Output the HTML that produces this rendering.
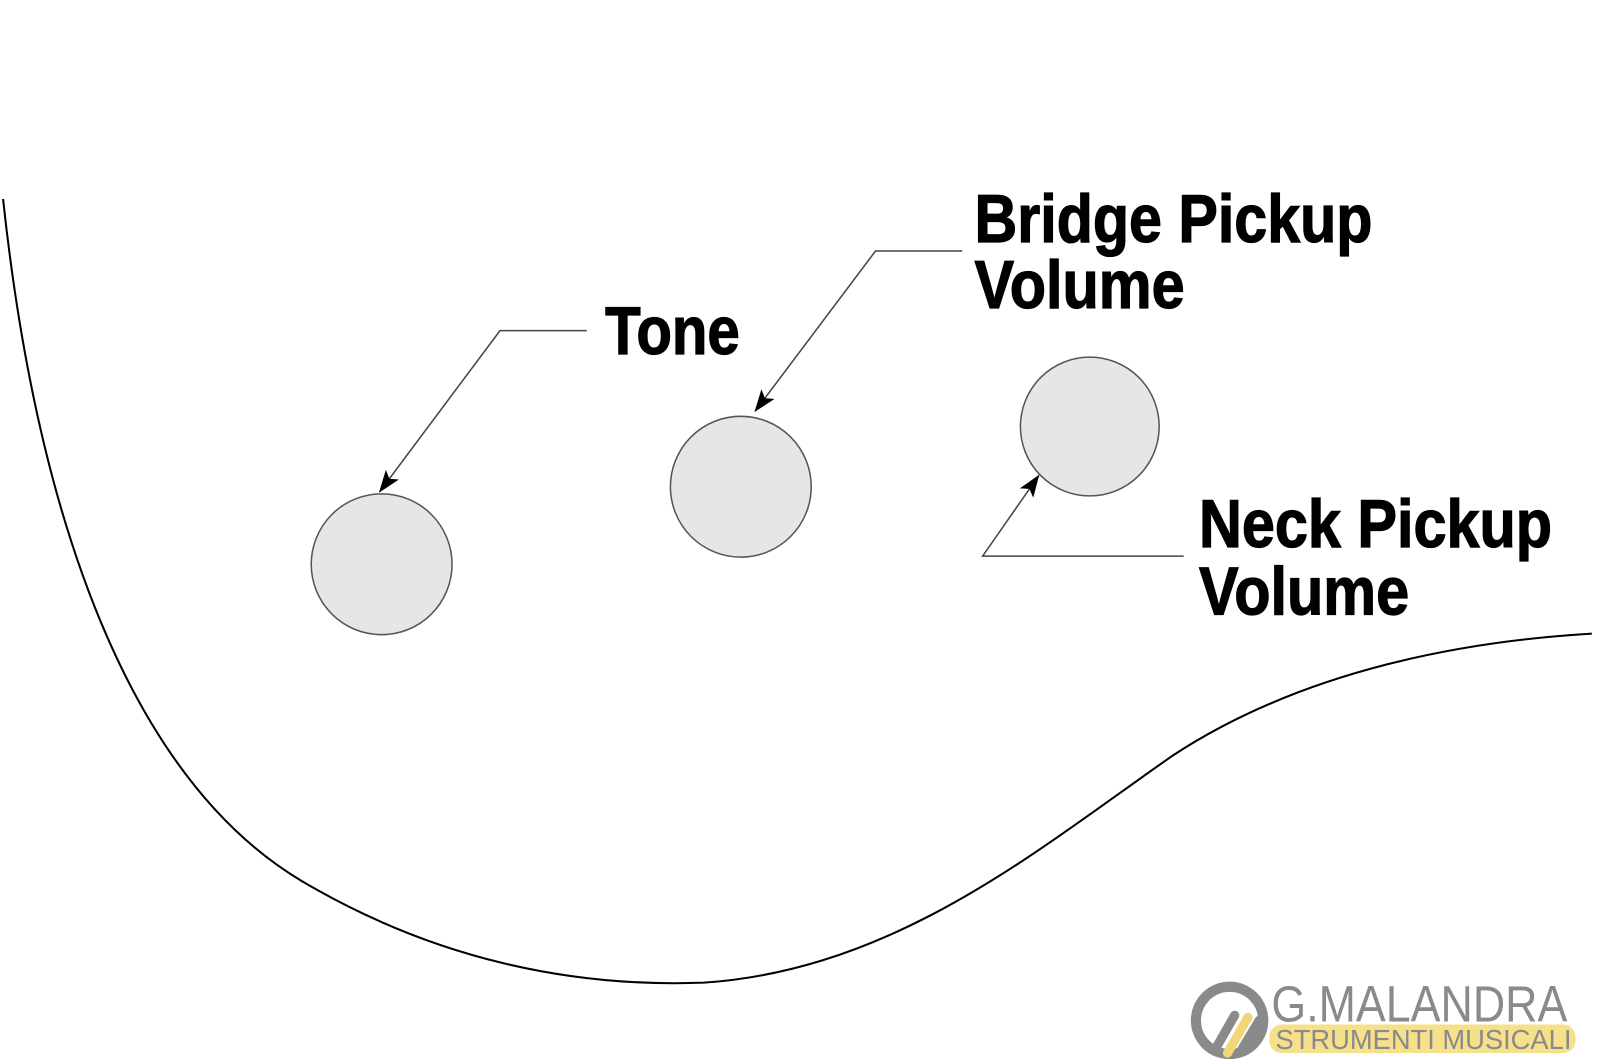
<!DOCTYPE html>
<html><head><meta charset="utf-8"><style>
html,body{margin:0;padding:0;background:#fff;}
svg{display:block;}
text.l{font-family:"Liberation Sans",sans-serif;font-weight:bold;font-size:66px;fill:#000;stroke:#000;stroke-width:1.2px;}
</style></head><body>
<svg width="1600" height="1059" viewBox="0 0 1600 1059" xmlns="http://www.w3.org/2000/svg">
<defs>
<marker id="a" markerWidth="22" markerHeight="16" refX="21" refY="8" orient="auto" markerUnits="userSpaceOnUse" viewBox="0 0 22 16">
<path d="M0,0 L22,8 L0,16 L5,8 Z" fill="#000"/>
</marker>
</defs>
<g transform="scale(1.0204)">
<path d="M3,195 C40,540 140,770 295,863 C425,940 560,968 690,963 C880,950 1020,830 1150,740 C1280,655 1440,628 1560,621" fill="none" stroke="#000" stroke-width="2"/>
<circle cx="374" cy="553" r="69" fill="#e6e6e6" stroke="#555" stroke-width="1.5"/>
<circle cx="726" cy="477" r="69" fill="#e6e6e6" stroke="#555" stroke-width="1.5"/>
<circle cx="1068" cy="418" r="68" fill="#e6e6e6" stroke="#555" stroke-width="1.5"/>
<polyline points="575,324 490,324 372,482" fill="none" stroke="#444" stroke-width="1.5" marker-end="url(#a)"/>
<polyline points="943,246 858,246 740,403" fill="none" stroke="#444" stroke-width="1.5" marker-end="url(#a)"/>
<polyline points="1160,545 963,545 1018,466" fill="none" stroke="#444" stroke-width="1.5" marker-end="url(#a)"/>
<text class="l" x="593" y="347" textLength="132" lengthAdjust="spacingAndGlyphs">Tone</text>
<text class="l" x="955" y="237" textLength="390" lengthAdjust="spacingAndGlyphs">Bridge Pickup</text>
<text class="l" x="955" y="302" textLength="206" lengthAdjust="spacingAndGlyphs">Volume</text>
<text class="l" x="1175" y="536" textLength="346" lengthAdjust="spacingAndGlyphs">Neck Pickup</text>
<text class="l" x="1175" y="602" textLength="206" lengthAdjust="spacingAndGlyphs">Volume</text>
<circle cx="1205" cy="1000" r="33" fill="none" stroke="#8a8a8a" stroke-width="10"/>
<path d="M1190,1030 L1210,995" stroke="#8a8a8a" stroke-width="9" stroke-linecap="round"/>
<path d="M1203,1032 L1223,997" stroke="#f2d77a" stroke-width="9" stroke-linecap="round"/>
<path d="M1216,1030 L1234,1000" stroke="#8a8a8a" stroke-width="9" stroke-linecap="round"/>
<rect x="1244" y="1004" width="300" height="28" rx="12" fill="#f7e08a"/>
<text x="1246" y="1001" font-family="Liberation Sans,sans-serif" font-size="50" fill="#8a8a8a" textLength="290" lengthAdjust="spacingAndGlyphs">G.MALANDRA</text>
<text x="1250" y="1028" font-family="Liberation Sans,sans-serif" font-size="27" fill="#8a8a8a" textLength="290" lengthAdjust="spacingAndGlyphs">STRUMENTI MUSICALI</text>
</g>
</svg>
</body></html>
